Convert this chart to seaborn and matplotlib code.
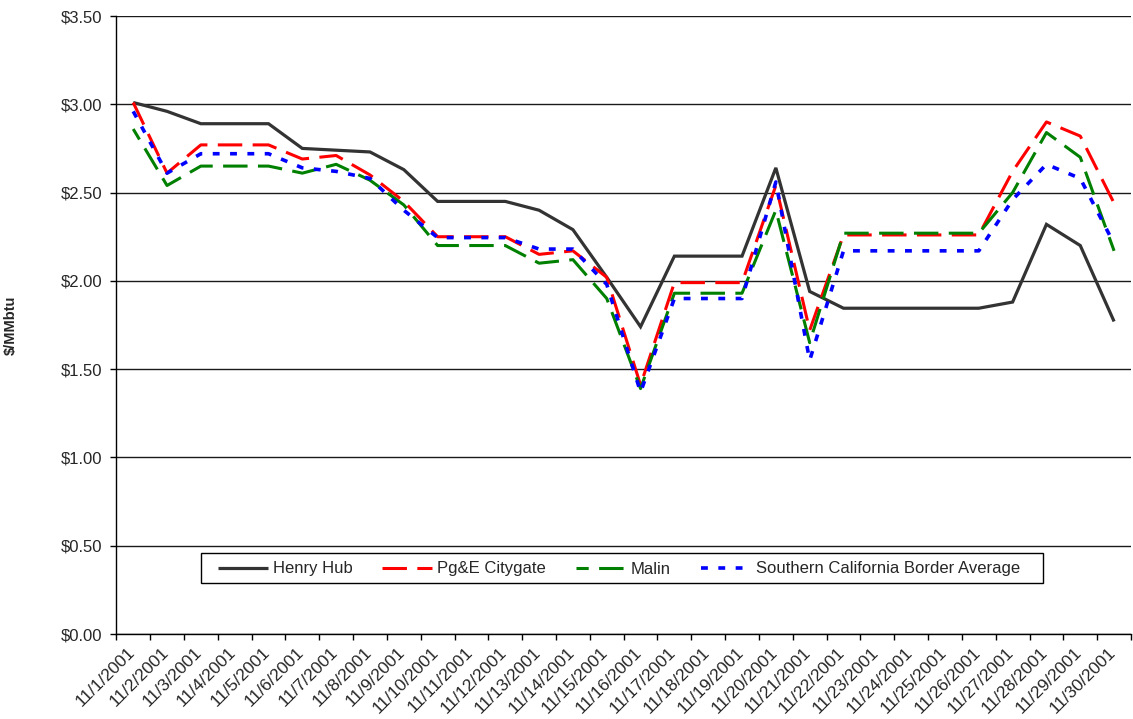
import matplotlib
matplotlib.use("Agg")
import matplotlib.pyplot as plt
import matplotlib.transforms as mtransforms
from matplotlib.patches import Rectangle
import numpy as np
import pandas as pd
import seaborn as sns

# Daily spot prices, November 2001 ($/MMbtu)
dates = [f"11/{d}/2001" for d in range(1, 31)]

henry_hub = [3.01, 2.96, 2.89, 2.89, 2.89, 2.75, 2.74, 2.73, 2.63, 2.45,
             2.45, 2.45, 2.40, 2.29, 2.02, 1.74, 2.14, 2.14, 2.14, 2.64,
             1.94, 1.845, 1.845, 1.845, 1.845, 1.845, 1.88, 2.32, 2.20, 1.77]

pge_citygate = [3.01, 2.61, 2.77, 2.77, 2.77, 2.69, 2.71, 2.60, 2.45, 2.25,
                2.25, 2.25, 2.15, 2.17, 2.02, 1.41, 1.99, 1.99, 1.99, 2.54,
                1.72, 2.26, 2.26, 2.26, 2.26, 2.26, 2.62, 2.90, 2.82, 2.44]

malin = [2.86, 2.54, 2.65, 2.65, 2.65, 2.61, 2.66, 2.57, 2.43, 2.20,
         2.20, 2.20, 2.10, 2.12, 1.90, 1.39, 1.93, 1.93, 1.93, 2.40,
         1.65, 2.27, 2.27, 2.27, 2.27, 2.27, 2.50, 2.84, 2.70, 2.17]

socal_border = [2.96, 2.61, 2.72, 2.72, 2.72, 2.64, 2.62, 2.58, 2.40, 2.245,
                2.245, 2.245, 2.18, 2.18, 1.98, 1.37, 1.90, 1.90, 1.90, 2.56,
                1.55, 2.17, 2.17, 2.17, 2.17, 2.17, 2.46, 2.66, 2.58, 2.21]

series_names = ["Henry Hub", "Pg&E Citygate", "Malin",
                "Southern California Border Average"]
y_ticks = [0.0, 0.5, 1.0, 1.5, 2.0, 2.5, 3.0, 3.5]

df = pd.DataFrame({
    "day": np.tile(np.arange(len(dates)), 4),
    "date": dates * 4,
    "series": np.repeat(series_names, len(dates)),
    "price": henry_hub + pge_citygate + malin + socal_border,
})

sns.set_style("white")
plt.rcParams["font.family"] = ["Liberation Sans", "DejaVu Sans"]

W, H = 1133, 719
fig = plt.figure(figsize=(W / 100, H / 100), dpi=100)

# plot area in pixels
x_left, x_right, y_top, y_bottom = 116.3, 1131, 16, 634
ax = fig.add_axes([x_left / W, (H - y_bottom) / H,
                   (x_right - x_left) / W, (y_bottom - y_top) / H])

styles = {
    "Henry Hub": dict(color="#333333", lw=2.3, linestyle="-"),
    "Pg&E Citygate": dict(color="#FF0000", lw=2.2,
                          linestyle=(0, (8.0, 3.4))),
    "Malin": dict(color="#008000", lw=2.2, linestyle=(4.0, (8.0, 3.4))),
    "Southern California Border Average": dict(color="#0000FF", lw=2.6,
                                               linestyle=(0, (1.9, 2.9))),
}

for name in series_names:
    sub = df[df["series"] == name]
    st = styles[name]
    sns.lineplot(data=sub, x="day", y="price", ax=ax, label=name,
                 color=st["color"], linewidth=st["lw"],
                 linestyle=st["linestyle"], dash_capstyle="butt",
                 solid_capstyle="butt", solid_joinstyle="miter",
                 errorbar=None, sort=False)

ax.set_xlim(-0.5, 29.09)
ax.set_ylim(0, 3.5)

# y axis
ax.set_yticks(y_ticks)
ax.set_yticklabels([f"${v:.2f}" for v in y_ticks])
ax.tick_params(axis="y", direction="out", length=4, width=1,
               color="black", labelsize=12, pad=6, left=True)
ax.yaxis.grid(True, color="#1a1a1a", linewidth=1.0)
ax.xaxis.grid(False)
ax.set_axisbelow(True)

# x axis: tick marks at day boundaries, labels at day centres
ax.set_xticks(np.arange(-0.5, 29.6, 1.0))
ax.set_xticklabels([])
ax.tick_params(axis="x", which="major", direction="out", length=4,
               width=1, color="black", bottom=True)
ax.set_xticks(np.arange(len(dates)), minor=True)
ax.set_xticklabels(dates, minor=True)
ax.tick_params(axis="x", which="minor", length=0, pad=11.5, labelsize=12.5)
shift = mtransforms.ScaledTranslation(-1 / 100, 0, fig.dpi_scale_trans)
for lab in ax.get_xticklabels(minor=True):
    lab.set_rotation(45)
    lab.set_ha("right")
    lab.set_va("center")
    lab.set_rotation_mode("anchor")
    lab.set_transform(lab.get_transform() + shift)

ax.set_xlabel("")
ax.set_ylabel("$/MMbtu", fontsize=10.5, fontweight="bold")
ax.yaxis.set_label_coords((18 - x_left) / (x_right - x_left), 0.5)

for side in ["top", "right"]:
    ax.spines[side].set_visible(False)
for side in ["left", "bottom"]:
    ax.spines[side].set_color("black")
    ax.spines[side].set_linewidth(1.0)

# legend box
lx0, lx1, ly0, ly1 = 200.7, 1043, 553, 583
def to_axes(px, py):
    return ((px - x_left) / (x_right - x_left),
            (y_bottom - py) / (y_bottom - y_top))
ax0 = to_axes(lx0, ly1)
ax1 = to_axes(lx1, ly0)
ax.add_patch(Rectangle(ax0, ax1[0] - ax0[0], ax1[1] - ax0[1],
                       transform=ax.transAxes, facecolor="white",
                       edgecolor="black", linewidth=1.0, zorder=5))
handles, labels = ax.get_legend_handles_labels()
cx, cy = to_axes((lx0 + lx1) / 2 - 3, (ly0 + ly1) / 2 + 1)
leg = ax.legend(handles, labels, loc="center", bbox_to_anchor=(cx, cy),
                ncol=4, frameon=False, fontsize=12, handlelength=3.0,
                handletextpad=0.3, columnspacing=1.8, borderpad=0,
                borderaxespad=0)
leg.set_zorder(6)

fig.savefig("out.png", dpi=100)
